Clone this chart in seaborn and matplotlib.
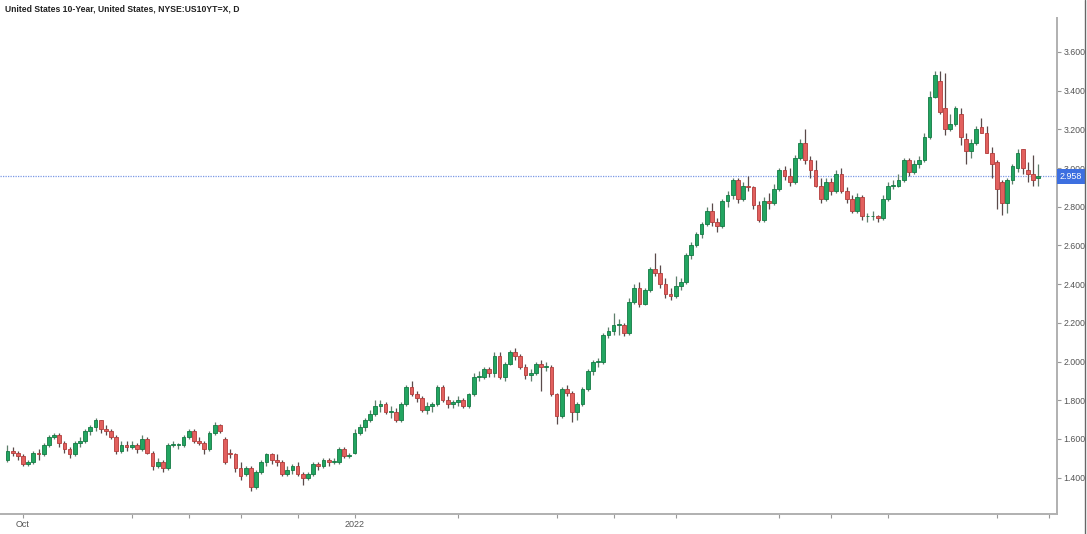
import numpy as np
import pandas as pd
import matplotlib
matplotlib.use("Agg")
import matplotlib.pyplot as plt
import matplotlib.transforms as mtrans
from matplotlib.lines import Line2D
from matplotlib import font_manager as fm
import seaborn as sns

# ---------------- data ----------------
title = "United States 10-Year, United States, NYSE:US10YT=X, D"
start_date = "2021-09-28"
holidays = ["2021-11-25", "2021-12-24", "2022-01-17", "2022-02-21",
            "2022-04-15", "2022-05-30", "2022-06-20", "2022-07-04"]

opens = [
    # Sep 28 - Oct 29
    1.49, 1.54, 1.53, 1.51, 1.47, 1.48, 1.53, 1.52, 1.57, 1.61, 1.62, 1.58, 1.55, 1.52, 1.58, 1.59, 1.64, 1.66, 1.70, 1.65, 1.64, 1.61, 1.54, 1.57,
    # Nov
    1.56, 1.57, 1.55, 1.60, 1.53, 1.46, 1.48, 1.45, 1.57, 1.57, 1.57, 1.61, 1.64, 1.59, 1.58, 1.55, 1.63, 1.67, 1.60, 1.53, 1.52,
    # Dec
    1.45, 1.42, 1.45, 1.35, 1.43, 1.48, 1.52, 1.49, 1.48, 1.42, 1.44, 1.46, 1.42, 1.40, 1.42, 1.47, 1.46, 1.49, 1.48, 1.48, 1.55, 1.51,
    # Jan
    1.53, 1.63, 1.66, 1.70, 1.73, 1.77, 1.78, 1.74, 1.74, 1.70, 1.78, 1.87, 1.83, 1.81, 1.75, 1.77, 1.78, 1.87, 1.80, 1.78,
    # Feb
    1.79, 1.80, 1.77, 1.83, 1.92, 1.92, 1.96, 1.94, 2.03, 1.92, 1.99, 2.05, 2.03, 1.97, 1.93, 1.94, 1.99, 1.97, 1.97,
    # Mar
    1.83, 1.72, 1.86, 1.84, 1.74, 1.78, 1.86, 1.95, 2.00, 2.00, 2.14, 2.16, 2.19, 2.19, 2.15, 2.31, 2.38, 2.30, 2.37, 2.48, 2.46, 2.40, 2.35,
    # Apr
    2.34, 2.39, 2.41, 2.55, 2.60, 2.66, 2.71, 2.78, 2.72, 2.70, 2.83, 2.86, 2.94, 2.84, 2.91, 2.90, 2.81, 2.73, 2.83, 2.82,
    # May
    2.89, 2.99, 2.96, 2.93, 3.05, 3.13, 3.04, 2.99, 2.91, 2.84, 2.93, 2.88, 2.97, 2.88, 2.84, 2.78, 2.85, 2.75, 2.75, 2.75, 2.74,
    # Jun
    2.84, 2.91, 2.91, 2.94, 3.04, 2.98, 3.02, 3.04, 3.16, 3.37, 3.45, 3.31, 3.20, 3.23, 3.28, 3.15, 3.09, 3.13, 3.21, 3.18, 3.08,
    # Jul
    3.03, 2.93, 2.82, 2.94, 3.00, 3.10, 2.99, 2.97, 2.95,
]
highs = [
    1.57, 1.56, 1.54, 1.52, 1.49, 1.54, 1.55, 1.58, 1.62, 1.63, 1.63, 1.59, 1.56, 1.59, 1.61, 1.65, 1.67, 1.71, 1.70, 1.67, 1.65, 1.62, 1.59, 1.59,
    1.59, 1.58, 1.62, 1.61, 1.54, 1.50, 1.49, 1.58, 1.59, 1.58, 1.62, 1.65, 1.65, 1.61, 1.59, 1.64, 1.69, 1.68, 1.61, 1.55, 1.53,
    1.48, 1.46, 1.46, 1.44, 1.49, 1.53, 1.53, 1.52, 1.49, 1.46, 1.47, 1.48, 1.43, 1.43, 1.48, 1.48, 1.50, 1.50, 1.50, 1.56, 1.56, 1.53,
    1.65, 1.68, 1.71, 1.75, 1.80, 1.80, 1.79, 1.77, 1.76, 1.79, 1.88, 1.90, 1.85, 1.82, 1.79, 1.79, 1.88, 1.88, 1.82, 1.80,
    1.82, 1.81, 1.84, 1.94, 1.95, 1.97, 1.97, 2.05, 2.05, 2.00, 2.06, 2.07, 2.04, 1.99, 1.96, 2.00, 2.01, 2.00, 1.98,
    1.84, 1.87, 1.88, 1.85, 1.79, 1.87, 1.96, 2.01, 2.02, 2.15, 2.18, 2.25, 2.22, 2.20, 2.33, 2.40, 2.41, 2.38, 2.49, 2.56, 2.50, 2.43, 2.38,
    2.44, 2.43, 2.56, 2.62, 2.67, 2.72, 2.80, 2.82, 2.74, 2.84, 2.88, 2.95, 2.95, 2.93, 2.96, 2.91, 2.83, 2.85, 2.87, 2.92,
    3.00, 3.01, 3.00, 3.07, 3.15, 3.20, 3.06, 3.04, 2.95, 2.95, 2.95, 2.99, 3.00, 2.90, 2.86, 2.87, 2.86, 2.77, 2.78, 2.76, 2.86,
    2.93, 2.94, 2.97, 3.05, 3.05, 3.04, 3.06, 3.18, 3.40, 3.50, 3.50, 3.49, 3.28, 3.32, 3.31, 3.18, 3.15, 3.22, 3.26, 3.22, 3.11,
    3.04, 2.94, 2.95, 3.02, 3.10, 3.10, 3.03, 3.07, 3.02,
]
lows = [
    1.48, 1.51, 1.49, 1.46, 1.46, 1.47, 1.49, 1.51, 1.56, 1.60, 1.56, 1.53, 1.50, 1.51, 1.56, 1.58, 1.62, 1.64, 1.63, 1.62, 1.60, 1.52, 1.53, 1.54,
    1.55, 1.53, 1.54, 1.52, 1.44, 1.45, 1.43, 1.44, 1.56, 1.55, 1.56, 1.60, 1.58, 1.57, 1.52, 1.54, 1.62, 1.63, 1.47, 1.50, 1.43,
    1.39, 1.41, 1.33, 1.34, 1.42, 1.46, 1.47, 1.46, 1.41, 1.41, 1.42, 1.41, 1.36, 1.39, 1.41, 1.44, 1.45, 1.46, 1.47, 1.47, 1.50, 1.50,
    1.52, 1.62, 1.64, 1.69, 1.72, 1.74, 1.73, 1.71, 1.69, 1.69, 1.77, 1.82, 1.79, 1.74, 1.73, 1.74, 1.77, 1.79, 1.76, 1.76,
    1.77, 1.76, 1.76, 1.82, 1.90, 1.91, 1.92, 1.92, 1.91, 1.90, 1.98, 2.01, 1.96, 1.91, 1.90, 1.93, 1.85, 1.95, 1.82,
    1.68, 1.71, 1.82, 1.69, 1.70, 1.77, 1.85, 1.93, 1.97, 1.99, 2.12, 2.14, 2.14, 2.13, 2.14, 2.30, 2.28, 2.29, 2.36, 2.44, 2.38, 2.33, 2.32,
    2.33, 2.37, 2.40, 2.53, 2.59, 2.64, 2.70, 2.70, 2.67, 2.69, 2.80, 2.84, 2.82, 2.83, 2.88, 2.79, 2.72, 2.72, 2.79, 2.81,
    2.88, 2.94, 2.91, 2.92, 3.04, 3.02, 2.95, 2.90, 2.82, 2.83, 2.86, 2.87, 2.87, 2.82, 2.77, 2.77, 2.73, 2.72, 2.73, 2.72, 2.73,
    2.83, 2.89, 2.90, 2.93, 2.96, 2.97, 3.00, 3.03, 3.15, 3.36, 3.28, 3.17, 3.19, 3.22, 3.12, 3.02, 3.05, 3.12, 3.18, 3.08, 2.95,
    2.79, 2.76, 2.77, 2.92, 2.98, 2.97, 2.93, 2.91, 2.91,
]
closes = [
    1.54, 1.53, 1.51, 1.47, 1.48, 1.53, 1.52, 1.57, 1.61, 1.62, 1.58, 1.55, 1.52, 1.58, 1.59, 1.64, 1.66, 1.70, 1.65, 1.64, 1.61, 1.54, 1.57, 1.56,
    1.57, 1.55, 1.60, 1.53, 1.46, 1.48, 1.45, 1.57, 1.57, 1.57, 1.61, 1.64, 1.59, 1.58, 1.55, 1.63, 1.67, 1.64, 1.48, 1.52, 1.45,
    1.41, 1.45, 1.35, 1.43, 1.48, 1.52, 1.49, 1.48, 1.42, 1.44, 1.46, 1.42, 1.40, 1.42, 1.47, 1.46, 1.49, 1.48, 1.48, 1.55, 1.51, 1.51,
    1.63, 1.66, 1.70, 1.73, 1.77, 1.78, 1.74, 1.74, 1.70, 1.78, 1.87, 1.83, 1.81, 1.75, 1.77, 1.78, 1.87, 1.80, 1.78, 1.79,
    1.80, 1.77, 1.83, 1.92, 1.92, 1.96, 1.94, 2.03, 1.92, 1.99, 2.05, 2.03, 1.97, 1.93, 1.94, 1.99, 1.97, 1.97, 1.83,
    1.72, 1.86, 1.84, 1.74, 1.78, 1.86, 1.95, 2.00, 2.00, 2.14, 2.16, 2.19, 2.19, 2.15, 2.31, 2.38, 2.30, 2.37, 2.48, 2.46, 2.40, 2.35, 2.34,
    2.39, 2.41, 2.55, 2.60, 2.66, 2.71, 2.78, 2.72, 2.70, 2.83, 2.86, 2.94, 2.84, 2.91, 2.90, 2.81, 2.73, 2.83, 2.82, 2.89,
    2.99, 2.96, 2.93, 3.05, 3.13, 3.04, 2.99, 2.91, 2.84, 2.93, 2.88, 2.97, 2.88, 2.84, 2.78, 2.85, 2.75, 2.75, 2.75, 2.74, 2.84,
    2.91, 2.91, 2.94, 3.04, 2.98, 3.02, 3.04, 3.16, 3.37, 3.48, 3.29, 3.20, 3.23, 3.31, 3.16, 3.09, 3.13, 3.20, 3.18, 3.08, 3.02,
    2.89, 2.82, 2.94, 3.01, 3.08, 3.00, 2.97, 2.94, 2.958,
]

y_ticks = [1.4, 1.6, 1.8, 2.0, 2.2, 2.4, 2.6, 2.8, 3.0, 3.2, 3.4, 3.6]
x_tick_dates = ["2021-10-01", "2021-11-01", "2021-11-16", "2021-12-01", "2021-12-16",
                "2022-01-03", "2022-02-01", "2022-03-01", "2022-03-16", "2022-04-01",
                "2022-05-02", "2022-05-16", "2022-06-01", "2022-07-01", "2022-07-18"]
x_tick_labels = {"2021-10-01": "Oct", "2022-01-03": "2022"}

# ---------------- build ----------------
n = len(closes)
assert len(opens) == len(highs) == len(lows) == n
cal = pd.bdate_range(start_date, "2022-08-31", freq="C", holidays=holidays)
df = pd.DataFrame({"date": cal[:n], "open": opens, "high": highs,
                   "low": lows, "close": closes})
df["pos"] = np.arange(n)
df["up"] = df["close"] >= df["open"]

sns.set_theme(style="white")
names = {f.name for f in fm.fontManager.ttflist}
if "Liberation Sans Narrow" in names:
    main_font = "Liberation Sans Narrow"
elif "Liberation Sans" in names:
    main_font = "Liberation Sans"
else:
    main_font = "DejaVu Sans"
plt.rcParams["font.family"] = [main_font, "DejaVu Sans"]

W, H = 1087, 534
fig = plt.figure(figsize=(W / 100, H / 100), dpi=100)
fig.patch.set_facecolor("white")
ax = fig.add_axes([0, 1 - 514 / H, 1057 / W, (514 - 18) / H])
ax.set_facecolor("white")

green_fill, green_edge = "#22a561", "#137a43"
red_fill, red_edge = "#e2605e", "#b23c3b"

wick_col = np.where(df["up"], "#5f7f6c", "#5a4a4a")
ax.vlines(df["pos"], df["low"], df["high"], colors=wick_col, linewidth=0.9, zorder=2)
body_bottom = np.minimum(df["open"], df["close"])
body_h = np.maximum((df["close"] - df["open"]).abs(), 0.005)
ax.bar(df["pos"], body_h, bottom=body_bottom, width=0.72,
       color=np.where(df["up"], green_fill, red_fill),
       edgecolor=np.where(df["up"], green_edge, red_edge),
       linewidth=0.6, zorder=3)

last = closes[-1]
ax.axhline(last, color="#7a98e6", linestyle=(0, (1, 1)), linewidth=0.9, zorder=1)

# axis ranges (pixel-matched)
ax.set_ylim(1.2124, 3.7757)
ax.set_xlim(-1.44, 202.6)

# y axis on right
ax.yaxis.tick_right()
ax.set_yticks(y_ticks)
ax.set_yticklabels([f"{v:.3f}" for v in y_ticks])
ax.tick_params(axis="y", which="major", right=True, left=False, length=3,
               width=0.8, color="#999999", labelsize=6.3, labelcolor="#555555", pad=1.5)

tick_pos = [int(cal.get_loc(pd.Timestamp(d))) for d in x_tick_dates]
ax.set_xticks(tick_pos)
ax.set_xticklabels([x_tick_labels.get(d, "") for d in x_tick_dates])
ax.tick_params(axis="x", which="major", bottom=True, length=3, width=0.8,
               color="#999999", labelsize=6.5, labelcolor="#555555", pad=1.5)

for s in ["top", "left"]:
    ax.spines[s].set_visible(False)
for s in ["bottom", "right"]:
    ax.spines[s].set_color("#b0b0b0")
    ax.spines[s].set_linewidth(1.4)
ax.grid(False)

# last price label
trans = mtrans.blended_transform_factory(ax.transAxes, ax.transData)
ax.text(1.0 + 2.5 / 1057, last, f"{last:.3f}", transform=trans, ha="left", va="center",
        color="white", fontsize=6.4, zorder=10, clip_on=False,
        bbox=dict(boxstyle="square,pad=0.32", fc="#3d6fe0", ec="none"))

# outer border on the right
fig.add_artist(Line2D([1085 / W, 1085 / W], [0, 1], color="#666666", linewidth=1.0))

# title, scaled to the reference width
t = fig.text(5 / W, 1 - 9 / H, title, fontsize=7, fontweight="bold",
             color="#222222", ha="left", va="center")
fig.canvas.draw()
wpx = t.get_window_extent().width
t.set_fontsize(7 * 233 / wpx)

fig.savefig("out.png", dpi=100, facecolor="white")
